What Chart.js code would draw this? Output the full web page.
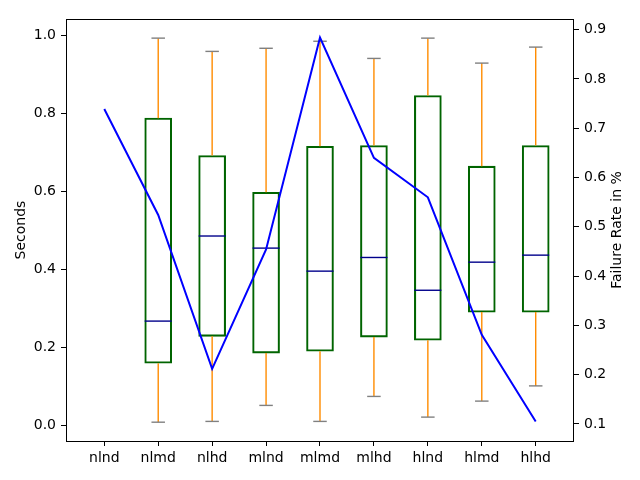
<!DOCTYPE html>
<html>
<head>
<meta charset="utf-8">
<title>Seconds and failure rate</title>
<script src="https://cdn.jsdelivr.net/npm/chart.js@4.4.1/dist/chart.umd.min.js"></script>
<style>
    html, body { margin: 0; padding: 0; background: #ffffff; }
    #wrap { width: 640px; height: 480px; }
</style>
</head>
<body>
<div id="wrap"><canvas id="chart" width="640" height="480"></canvas></div>
<script>
// ===== DATA =====
const categories = ['nlnd', 'nlmd', 'nlhd', 'mlnd', 'mlmd', 'mlhd', 'hlnd', 'hlmd', 'hlhd'];
// box plot of seconds (no box for nlnd)
const whiskerLow  = [null, 0.008, 0.010, 0.051, 0.010, 0.074, 0.021, 0.062, 0.101];
const quartile1   = [null, 0.159, 0.228, 0.185, 0.190, 0.226, 0.218, 0.290, 0.290];
const medians     = [null, 0.267, 0.485, 0.454, 0.395, 0.430, 0.346, 0.418, 0.436];
const quartile3   = [null, 0.787, 0.691, 0.597, 0.715, 0.717, 0.845, 0.664, 0.717];
const whiskerHigh = [null, 0.992, 0.958, 0.966, 0.984, 0.940, 0.992, 0.928, 0.969];
// failure rate line (right axis)
const failureRate = [0.739, 0.524, 0.212, 0.454, 0.884, 0.640, 0.560, 0.281, 0.105];
// tick labels
const secondsTicks = [0.0, 0.2, 0.4, 0.6, 0.8, 1.0];
const rateTicks = [0.1, 0.2, 0.3, 0.4, 0.5, 0.6, 0.7, 0.8, 0.9];

document.addEventListener('DOMContentLoaded', function() {
    "use strict";

    const FONT = { family: '"DejaVu Sans", sans-serif', size: 14 };
    const BOX_PX = 27;
    const BOX_LW = 1.4;

    // ===== BUILD DATASETS =====
    const boxData = [];
    const whiskerData = [];
    const capData = [];
    const medianData = [];
    categories.forEach((c, i) => {
        const x = i + 1;
        if (quartile1[i] === null) return;
        boxData.push({ x: x, y: [quartile1[i], quartile3[i]] });
        whiskerData.push({ x: x, y: whiskerLow[i] }, { x: x, y: quartile1[i] }, { x: x, y: null });
        whiskerData.push({ x: x, y: quartile3[i] }, { x: x, y: whiskerHigh[i] }, { x: x, y: null });
        capData.push({ x: x, y: whiskerLow[i] }, { x: x, y: whiskerHigh[i] });
        medianData.push({ x: x, y: medians[i] });
    });
    const rateData = failureRate.map((v, i) => ({ x: i + 1, y: v }));

    // frame around the plot and the right axis label
    const framePlugin = {
        id: 'frame',
        afterDraw(chart) {
            const { ctx, chartArea: a } = chart;
            ctx.save();
            ctx.strokeStyle = '#000000';
            ctx.lineWidth = 1;
            ctx.strokeRect(Math.round(a.left) + 0.5, Math.round(a.top) + 0.5,
                Math.round(a.right - a.left) - 1, Math.round(a.bottom - a.top));
            ctx.translate(617, (a.top + a.bottom) / 2);
            ctx.rotate(-Math.PI / 2);
            ctx.fillStyle = '#000000';
            ctx.font = FONT.size + 'px ' + FONT.family;
            ctx.textAlign = 'center';
            ctx.textBaseline = 'middle';
            ctx.fillText('Failure Rate in %', 0, 0);
            ctx.restore();
        }
    };

    const tickGrid = { display: true, drawOnChartArea: false, drawTicks: true, tickLength: 5, color: '#000000' };

    new Chart(document.getElementById('chart').getContext('2d'), {
        type: 'bar',
        data: {
            datasets: [
                {
                    type: 'line',
                    label: 'Failure Rate',
                    data: rateData,
                    yAxisID: 'y1',
                    borderColor: '#0000ff',
                    borderWidth: 2,
                    pointRadius: 0,
                    tension: 0,
                    order: 0
                },
                {
                    type: 'line',
                    label: 'caps',
                    data: capData,
                    yAxisID: 'y',
                    showLine: false,
                    pointStyle: 'line',
                    pointRadius: BOX_PX / 4,
                    pointBorderColor: '#808080',
                    pointBorderWidth: BOX_LW,
                    order: 1
                },
                {
                    type: 'line',
                    label: 'whiskers',
                    data: whiskerData,
                    yAxisID: 'y',
                    borderColor: '#ff8c00',
                    borderWidth: BOX_LW,
                    pointRadius: 0,
                    spanGaps: false,
                    order: 2
                },
                {
                    type: 'line',
                    label: 'medians',
                    data: medianData,
                    yAxisID: 'y',
                    showLine: false,
                    pointStyle: 'line',
                    pointRadius: BOX_PX / 2,
                    pointBorderColor: '#00008b',
                    pointBorderWidth: BOX_LW,
                    order: 3
                },
                {
                    type: 'bar',
                    label: 'boxes',
                    data: boxData,
                    yAxisID: 'y',
                    backgroundColor: 'rgba(0,0,0,0)',
                    borderColor: '#006400',
                    borderWidth: BOX_LW,
                    borderSkipped: false,
                    barThickness: BOX_PX,
                    grouped: false,
                    order: 4
                }
            ]
        },
        options: {
            responsive: false,
            animation: false,
            layout: { padding: { top: 19, left: 0, right: 0, bottom: 0 } },
            plugins: {
                legend: { display: false },
                tooltip: { enabled: false }
            },
            scales: {
                x: {
                    type: 'linear',
                    min: 0.29,
                    max: 9.71,
                    offset: false,
                    grid: Object.assign({ offset: false }, tickGrid),
                    border: { display: false },
                    ticks: {
                        color: '#000000',
                        font: FONT,
                        padding: 4,
                        maxRotation: 0,
                        autoSkip: false,
                        callback: value => categories[value - 1]
                    },
                    afterBuildTicks: scale => {
                        scale.ticks = categories.map((c, i) => ({ value: i + 1 }));
                    },
                    afterFit: scale => { scale.height = 39; }
                },
                y: {
                    type: 'linear',
                    position: 'left',
                    min: -0.0402,
                    max: 1.041,
                    grid: tickGrid,
                    border: { display: false },
                    title: {
                        display: true,
                        text: 'Seconds',
                        color: '#000000',
                        font: FONT,
                        padding: { top: 12.6, bottom: 0 }
                    },
                    ticks: {
                        color: '#000000',
                        font: FONT,
                        padding: 5,
                        callback: value => value.toFixed(1)
                    },
                    afterBuildTicks: scale => {
                        scale.ticks = secondsTicks.map(v => ({ value: v }));
                    },
                    afterFit: scale => { scale.width = 66; }
                },
                y1: {
                    type: 'linear',
                    position: 'right',
                    min: 0.0655,
                    max: 0.9217,
                    grid: tickGrid,
                    border: { display: false },
                    ticks: {
                        color: '#000000',
                        font: FONT,
                        padding: 5,
                        callback: value => value.toFixed(1)
                    },
                    afterBuildTicks: scale => {
                        scale.ticks = rateTicks.map(v => ({ value: v }));
                    },
                    afterFit: scale => { scale.width = 66; }
                }
            }
        },
        plugins: [framePlugin]
    });
});
</script>
</body>
</html>
